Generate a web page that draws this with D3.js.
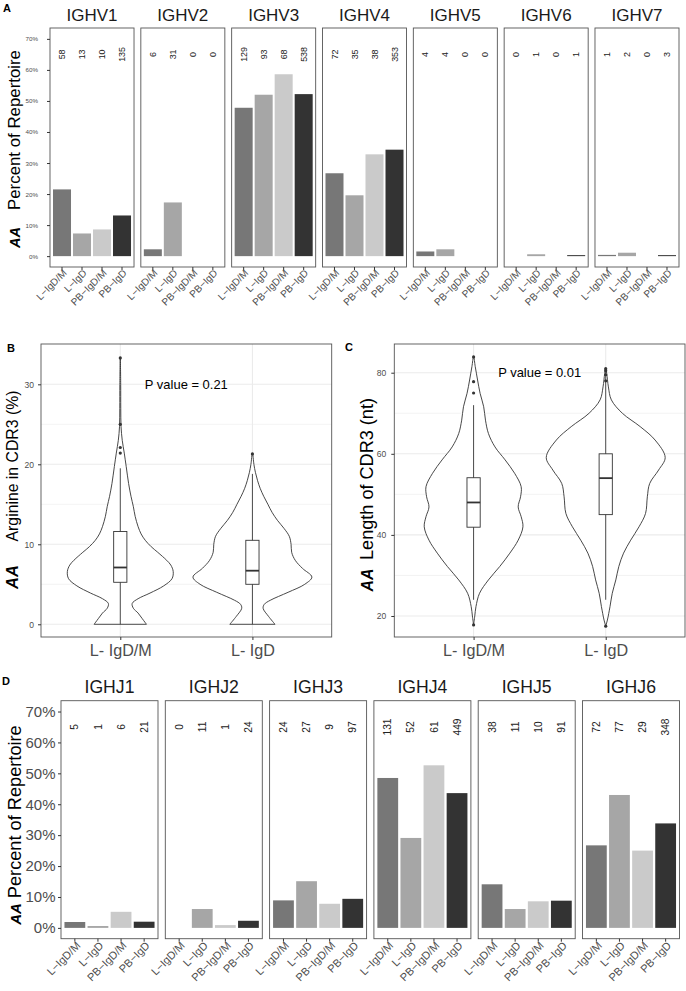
<!DOCTYPE html>
<html><head><meta charset="utf-8">
<script src="https://cdn.jsdelivr.net/npm/d3@7"></script>
<style>body{margin:0;background:#fff} text{font-family:"Liberation Sans",Arial,Helvetica,sans-serif}</style>
</head><body><svg id="c" width="686" height="991"></svg>
<script>
// ---------- shared ----------
const groups = ["L\u2212IgD/M", "L\u2212IgD", "PB\u2212IgD/M", "PB\u2212IgD"];
const groupColors = ["#777777", "#a6a6a6", "#cacaca", "#333333"];
const pctTicks = [0, 10, 20, 30, 40, 50, 60, 70];

// ---------- panel A: IGHV usage (% of repertoire) ----------
const vGenes = ["IGHV1", "IGHV2", "IGHV3", "IGHV4", "IGHV5", "IGHV6", "IGHV7"];
const vPctLIgDM  = [21.5, 2.2, 47.8, 26.7, 1.5, 0, 0.4];
const vPctLIgD   = [7.3, 17.3, 52.0, 19.6, 2.2, 0.6, 1.1];
const vPctPBIgDM = [8.6, 0, 58.6, 32.8, 0, 0, 0];
const vPctPBIgD  = [13.1, 0, 52.2, 34.3, 0, 0.1, 0.3];
const vCntLIgDM  = [58, 6, 129, 72, 4, 0, 1];
const vCntLIgD   = [13, 31, 93, 35, 4, 1, 2];
const vCntPBIgDM = [10, 0, 68, 38, 0, 0, 0];
const vCntPBIgD  = [135, 0, 538, 353, 0, 1, 3];

// ---------- panel D: IGHJ usage ----------
const jGenes = ["IGHJ1", "IGHJ2", "IGHJ3", "IGHJ4", "IGHJ5", "IGHJ6"];
const jPctLIgDM  = [1.9, 0, 8.9, 48.5, 14.1, 26.7];
const jPctLIgD   = [0.6, 6.1, 15.1, 29.1, 6.1, 43.0];
const jPctPBIgDM = [5.2, 0.9, 7.8, 52.6, 8.6, 25.0];
const jPctPBIgD  = [2.0, 2.3, 9.4, 43.6, 8.8, 33.8];
const jCntLIgDM  = [5, 0, 24, 131, 38, 72];
const jCntLIgD   = [1, 11, 27, 52, 11, 77];
const jCntPBIgDM = [6, 1, 9, 61, 10, 29];
const jCntPBIgD  = [21, 24, 97, 449, 91, 348];

// ---------- panels B & C: violins ----------
const violinCats = ["L- IgD/M", "L- IgD"];
// B: arginine in CDR3 (%)
const argDMValue   = [0, 0.7, 1.4, 2.0, 2.6, 3.2, 3.9, 4.8, 5.7, 6.6, 7.4, 8.0, 9.0, 9.7, 10.5, 11.3, 12.2, 13.5, 14.7, 16, 17.6, 19.7, 21.4, 23, 24.7, 27, 30, 33.4];
const argDMDensity = [0.44, 0.37, 0.30, 0.22, 0.20, 0.30, 0.50, 0.73, 0.87, 0.89, 0.85, 0.78, 0.63, 0.52, 0.42, 0.35, 0.30, 0.25, 0.22, 0.18, 0.14, 0.10, 0.067, 0.033, 0.013, 0.008, 0.007, 0];
const argDValue    = [0, 1, 2, 2.5, 3, 4, 5, 5.9, 7, 8, 9, 10, 11, 12, 13, 14, 15, 16, 17, 18, 19, 20, 21.4];
const argDDensity  = [0.38, 0.27, 0.18, 0.20, 0.30, 0.60, 0.88, 1.0, 0.84, 0.72, 0.66, 0.65, 0.62, 0.53, 0.42, 0.33, 0.26, 0.19, 0.13, 0.085, 0.05, 0.025, 0];
const argBoxDM = [0, 5.25, 7.1, 11.6, 19.5];   // whisker low, q1, median, q3, whisker high
const argBoxD  = [0, 5.0, 6.7, 10.5, 18.8];
const argOutDM = [21.4, 22.1, 25.0, 33.3];
const argOutD  = [21.3];
const argTicks = [0, 10, 20, 30];
const argMinor = [5, 15, 25];
// C: length of CDR3 (nt)
const lenDMValue   = [17.8, 20, 22.3, 25.6, 28.9, 32.2, 35.5, 38.7, 42, 44.5, 46.9, 49.4, 51.9, 55.2, 58.5, 61.7, 65, 68.3, 71.6, 74.9, 78.2, 81.5, 83.9];
const lenDMDensity = [0, 0.02, 0.04, 0.10, 0.25, 0.44, 0.61, 0.75, 0.83, 0.80, 0.75, 0.79, 0.80, 0.69, 0.53, 0.36, 0.25, 0.20, 0.17, 0.11, 0.067, 0.028, 0];
const lenDValue    = [17.5, 19, 22.3, 25.6, 28.9, 32.2, 35.5, 38.7, 42, 45.3, 49.4, 52.7, 56, 59.1, 63.4, 66.7, 70, 73.3, 76.5, 79.8, 81];
const lenDDensity  = [0, 0.028, 0.072, 0.11, 0.17, 0.22, 0.30, 0.42, 0.56, 0.67, 0.70, 0.74, 0.89, 1.0, 0.83, 0.58, 0.28, 0.095, 0.045, 0.017, 0];
const lenBoxDM = [24, 41.9, 48.0, 54.1, 72];
const lenBoxD  = [24, 45.0, 54.0, 60.0, 81];
const lenOutDM = [17.8, 75, 77.8, 83.9];
const lenOutD  = [17.5, 78, 79.5, 80.5, 81];
const lenTicks = [20, 40, 60, 80];
const lenMinor = [30, 50, 70];

const svg = d3.select("#c");
const TICK = "#333333", LAB = "#4d4d4d", BORDER = "#555555", GRID = "#ebebeb";

// font size that gives a string a wanted rendered length
function sizeFor(str, target, bold, italic) {
  const t = svg.append("text").attr("font-size", 100).text(str);
  if (bold) t.attr("font-weight", "bold");
  if (italic) t.attr("font-style", "italic");
  const L = t.node().getComputedTextLength();
  t.remove();
  return 100 * target / L;
}

function yTitle(x, cMain, lenMain, cAA, lenAA, label) {
  svg.append("text").attr("transform", `translate(${x},${cMain}) rotate(-90)`)
    .attr("text-anchor", "middle").attr("fill", "#000")
    .attr("font-size", sizeFor(label, lenMain)).text(label);
  svg.append("text").attr("transform", `translate(${x},${cAA}) rotate(-90)`)
    .attr("text-anchor", "middle").attr("fill", "#000").attr("font-weight", "bold").attr("font-style", "italic")
    .attr("font-size", sizeFor("AA", lenAA, true, true)).text("AA");
}

function letter(x, y, s) {
  svg.append("text").attr("x", x).attr("y", y).attr("font-weight", "bold").attr("font-size", 11).text(s);
}

function barPanel(cfg) {
  const fx = d3.scaleBand().domain(cfg.genes).range(cfg.xRange).paddingInner(cfg.pad);
  const y = d3.scaleLinear().domain([-3.5, 73.5]).range([cfg.bottom, cfg.top]);
  const x = d3.scaleBand().domain(groups).range([0, fx.bandwidth()]).paddingInner(0.1).paddingOuter(0.15);
  cfg.genes.forEach((gene, i) => {
    const pg = svg.append("g").attr("transform", `translate(${fx(gene)},0)`);
    groups.forEach((grp, k) => {
      const v = cfg.values[k][i];
      if (v > 0) {
        pg.append("rect").attr("x", x(grp)).attr("width", x.bandwidth())
          .attr("y", Math.min(y(v), y(0) - 1)).attr("height", Math.max(y(0) - y(v), 1))
          .attr("fill", groupColors[k]);
      }
      pg.append("text")
        .attr("transform", `translate(${x(grp) + x.bandwidth() / 2},${y(65)}) rotate(-90)`)
        .attr("text-anchor", "middle").attr("dy", "0.35em")
        .attr("font-size", cfg.countSize).attr("fill", "#222").text(cfg.counts[k][i]);
    });
    pg.append("rect").attr("x", 0).attr("y", cfg.top).attr("width", fx.bandwidth())
      .attr("height", cfg.bottom - cfg.top).attr("fill", "none").attr("stroke", BORDER).attr("stroke-width", 0.9);
    pg.append("text").attr("x", fx.bandwidth() / 2).attr("y", cfg.stripY).attr("text-anchor", "middle")
      .attr("font-size", cfg.stripSize).attr("fill", "#1a1a1a").text(gene);
    const ax = pg.append("g").attr("transform", `translate(0,${cfg.bottom})`)
      .call(d3.axisBottom(x).tickSize(3).tickSizeOuter(0));
    ax.attr("font-size", null).attr("font-family", null);
    ax.select(".domain").remove();
    ax.selectAll("line").attr("stroke", TICK);
    ax.selectAll("text").attr("text-anchor", "end").attr("transform", "rotate(-45)")
      .attr("x", -1).attr("y", cfg.xLabOff).attr("dy", "0.35em")
      .attr("font-size", cfg.xLabSize).attr("fill", LAB);
  });
  const ay = svg.append("g").attr("transform", `translate(${cfg.xRange[0]},0)`)
    .call(d3.axisLeft(y).tickValues(pctTicks).tickFormat(d => d + "%").tickSize(3).tickPadding(cfg.yPad));
  ay.attr("font-size", null).attr("font-family", null);
  ay.select(".domain").remove();
  ay.selectAll("line").attr("stroke", TICK);
  ay.selectAll("text").attr("font-size", cfg.yLabSize).attr("fill", LAB);
}

function violinPanel(cfg) {
  const x = d3.scalePoint().domain(violinCats).range([cfg.left, cfg.right]).padding(0.6);
  const y = d3.scaleLinear().domain(cfg.yDomain).range([cfg.bottom, cfg.top]);
  const w = d3.scaleLinear().domain([0, 1]).range([0, 0.45 * x.step()]);
  const g = svg.append("g");
  cfg.minor.forEach(v => g.append("line").attr("x1", cfg.left).attr("x2", cfg.right)
    .attr("y1", y(v)).attr("y2", y(v)).attr("stroke", GRID).attr("stroke-width", 0.6));
  cfg.ticks.forEach(v => g.append("line").attr("x1", cfg.left).attr("x2", cfg.right)
    .attr("y1", y(v)).attr("y2", y(v)).attr("stroke", GRID).attr("stroke-width", 1.1));
  violinCats.forEach(c => g.append("line").attr("x1", x(c)).attr("x2", x(c))
    .attr("y1", cfg.top).attr("y2", cfg.bottom).attr("stroke", GRID).attr("stroke-width", 1.1));

  const line = d3.line().curve(d3.curveCatmullRom.alpha(0.5));
  cfg.violins.forEach((vd, k) => {
    const cx = x(violinCats[k]);
    const n = vd.value.length;
    const pts = [];
    for (let i = 0; i < n; i++) pts.push([cx - w(vd.density[i]), y(vd.value[i])]);
    for (let i = n - 2; i >= 0; i--) pts.push([cx + w(vd.density[i]), y(vd.value[i])]);
    g.append("path").attr("d", line(pts) + "Z").attr("fill", "#fff").attr("stroke", "#333").attr("stroke-width", 0.9);
    const b = vd.box, bw = 0.1 * x.step();
    g.append("line").attr("x1", cx).attr("x2", cx).attr("y1", y(b[0])).attr("y2", y(b[4]))
      .attr("stroke", "#333").attr("stroke-width", 0.9);
    g.append("rect").attr("x", cx - bw / 2).attr("width", bw).attr("y", y(b[3])).attr("height", y(b[1]) - y(b[3]))
      .attr("fill", "#fff").attr("stroke", "#333").attr("stroke-width", 0.9);
    g.append("line").attr("x1", cx - bw / 2).attr("x2", cx + bw / 2).attr("y1", y(b[2])).attr("y2", y(b[2]))
      .attr("stroke", "#333").attr("stroke-width", 1.8);
    vd.out.forEach(o => g.append("circle").attr("cx", cx).attr("cy", y(o)).attr("r", 1.6).attr("fill", "#333"));
  });
  g.append("text").attr("x", (x(violinCats[0]) + x(violinCats[1])) / 2).attr("y", y(cfg.pY))
    .attr("dy", "0.35em").attr("text-anchor", "middle").attr("font-size", sizeFor(cfg.pText, 83))
    .attr("fill", "#000").text(cfg.pText);
  g.append("rect").attr("x", cfg.left).attr("y", cfg.top).attr("width", cfg.right - cfg.left)
    .attr("height", cfg.bottom - cfg.top).attr("fill", "none").attr("stroke", BORDER).attr("stroke-width", 0.9);
  const ax = g.append("g").attr("transform", `translate(0,${cfg.bottom})`)
    .call(d3.axisBottom(x).tickSize(3).tickPadding(5));
  ax.attr("font-size", null).attr("font-family", null);
  ax.select(".domain").remove();
  ax.selectAll("line").attr("stroke", TICK);
  ax.selectAll("text").attr("font-size", sizeFor("L- IgD/M", 62)).attr("fill", LAB);
  const ay = g.append("g").attr("transform", `translate(${cfg.left},0)`)
    .call(d3.axisLeft(y).tickValues(cfg.ticks).tickSize(3).tickPadding(cfg.yPad));
  ay.attr("font-size", null).attr("font-family", null);
  ay.select(".domain").remove();
  ay.selectAll("line").attr("stroke", TICK);
  ay.selectAll("text").attr("font-size", sizeFor("30", 9.5)).attr("fill", LAB);
}

// ---- A ----
letter(3, 12, "A");
barPanel({
  genes: vGenes, xRange: [50, 679], pad: 0.075, top: 28, bottom: 267,
  values: [vPctLIgDM, vPctLIgD, vPctPBIgDM, vPctPBIgD],
  counts: [vCntLIgDM, vCntLIgD, vCntPBIgDM, vCntPBIgD],
  countSize: sizeFor("135", 15), stripSize: sizeFor("IGHV1", 51), stripY: 20.5,
  xLabSize: 10, xLabOff: 5, yLabSize: sizeFor("70%", 12.5), yPad: 9
});
yTitle(19.5, 130, 160, 237.5, 21, "Percent of Repertoire");

// ---- B ----
letter(7, 352, "B");
violinPanel({
  left: 41, right: 331.7, top: 344, bottom: 637, yDomain: [-1.59, 35.04],
  ticks: argTicks, minor: argMinor, yPad: 4, pY: 30, pText: "P value = 0.21",
  violins: [
    { value: argDMValue, density: argDMDensity, box: argBoxDM, out: argOutDM },
    { value: argDValue, density: argDDensity, box: argBoxD, out: argOutD }
  ]
});
yTitle(18, 466, 151, 577, 24, "Arginine in CDR3 (%)");

// ---- C ----
letter(345, 351, "C");
violinPanel({
  left: 394.3, right: 685, top: 344, bottom: 637, yDomain: [14.82, 87.08],
  ticks: lenTicks, minor: lenMinor, yPad: 5, pY: 80, pText: "P value = 0.01",
  violins: [
    { value: lenDMValue, density: lenDMDensity, box: lenBoxDM, out: lenOutDM },
    { value: lenDValue, density: lenDDensity, box: lenBoxD, out: lenOutD }
  ]
});
yTitle(373, 479, 162, 580, 23, "Length of CDR3 (nt)");

// ---- D ----
letter(2, 685, "D");
barPanel({
  genes: jGenes, xRange: [61, 679.5], pad: 0.07, top: 700.7, bottom: 938.7,
  values: [jPctLIgDM, jPctLIgD, jPctPBIgDM, jPctPBIgD],
  counts: [jCntLIgDM, jCntLIgD, jCntPBIgDM, jCntPBIgD],
  countSize: sizeFor("131", 17), stripSize: sizeFor("IGHJ1", 50), stripY: 693,
  xLabSize: 11, xLabOff: 6, yLabSize: sizeFor("70%", 30), yPad: 2.5
});
yTitle(20.5, 811.7, 173, 914, 21.7, "Percent of Repertoire");
</script></body></html>
